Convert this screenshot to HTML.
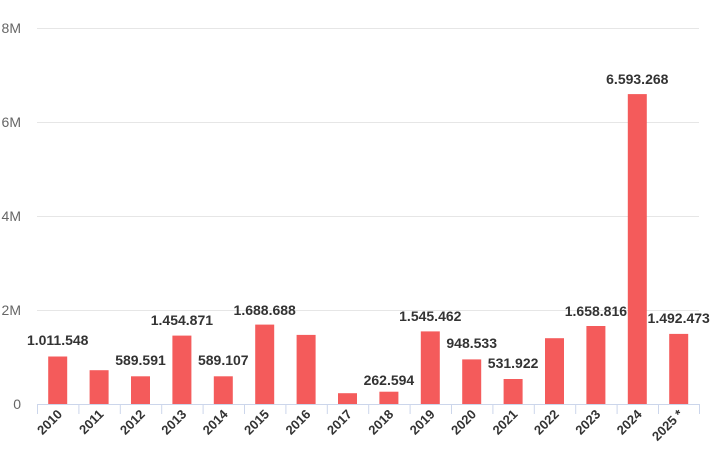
<!DOCTYPE html>
<html><head><meta charset="utf-8"><style>
html,body{margin:0;padding:0;background:#fff;width:722px;height:470px;overflow:hidden}
svg{display:block;font-family:"Liberation Sans","DejaVu Sans",sans-serif}
.y{fill:#666;font-size:14px;text-anchor:end}
.v{fill:#333;font-size:14px;font-weight:bold;text-anchor:middle}
.x{fill:#333;font-size:13px;font-weight:bold;text-anchor:end}
</style></head><body>
<svg width="722" height="470" viewBox="0 0 722 470">
<g stroke="#e6e6e6" stroke-width="1">
<line x1="37" y1="28.5" x2="699" y2="28.5"/>
<line x1="37" y1="122.5" x2="699" y2="122.5"/>
<line x1="37" y1="216.5" x2="699" y2="216.5"/>
<line x1="37" y1="310.5" x2="699" y2="310.5"/>
</g>
<text class="y" x="21" y="33">8M</text>
<text class="y" x="21" y="127">6M</text>
<text class="y" x="21" y="221">4M</text>
<text class="y" x="21" y="315">2M</text>
<text class="y" x="21" y="409">0</text>
<g fill="#f45b5b">
<rect x="48.2" y="356.5" width="19" height="47.5"/>
<rect x="89.6" y="370.2" width="19" height="33.8"/>
<rect x="131" y="376.3" width="19" height="27.7"/>
<rect x="172.4" y="335.6" width="19" height="68.4"/>
<rect x="213.8" y="376.3" width="19" height="27.7"/>
<rect x="255.2" y="324.6" width="19" height="79.4"/>
<rect x="296.6" y="334.9" width="19" height="69.1"/>
<rect x="338" y="393.2" width="19" height="10.8"/>
<rect x="379.4" y="391.7" width="19" height="12.3"/>
<rect x="420.8" y="331.4" width="19" height="72.6"/>
<rect x="462.2" y="359.4" width="19" height="44.6"/>
<rect x="503.6" y="379" width="19" height="25"/>
<rect x="545" y="338.2" width="19" height="65.8"/>
<rect x="586.4" y="326" width="19" height="78"/>
<rect x="627.8" y="94.1" width="19" height="309.9"/>
<rect x="669.2" y="333.9" width="19" height="70.1"/>
</g>
<line x1="37" y1="404.5" x2="699" y2="404.5" stroke="#ccd6eb"/>
<g stroke="#ccd6eb">
<line x1="37.5" y1="404" x2="37.5" y2="414"/><line x1="78.9" y1="404" x2="78.9" y2="414"/><line x1="120.3" y1="404" x2="120.3" y2="414"/><line x1="161.7" y1="404" x2="161.7" y2="414"/><line x1="203.1" y1="404" x2="203.1" y2="414"/><line x1="244.5" y1="404" x2="244.5" y2="414"/><line x1="285.9" y1="404" x2="285.9" y2="414"/><line x1="327.3" y1="404" x2="327.3" y2="414"/><line x1="368.7" y1="404" x2="368.7" y2="414"/><line x1="410.1" y1="404" x2="410.1" y2="414"/><line x1="451.5" y1="404" x2="451.5" y2="414"/><line x1="492.9" y1="404" x2="492.9" y2="414"/><line x1="534.3" y1="404" x2="534.3" y2="414"/><line x1="575.7" y1="404" x2="575.7" y2="414"/><line x1="617.1" y1="404" x2="617.1" y2="414"/><line x1="658.5" y1="404" x2="658.5" y2="414"/><line x1="699.5" y1="404" x2="699.5" y2="414"/>
</g>
<text class="v" x="57.7" y="345">1.011.548</text>
<text class="v" x="140.5" y="365">589.591</text>
<text class="v" x="181.9" y="325">1.454.871</text>
<text class="v" x="223.3" y="365">589.107</text>
<text class="v" x="264.7" y="315">1.688.688</text>
<text class="v" x="388.9" y="385">262.594</text>
<text class="v" x="430.3" y="321">1.545.462</text>
<text class="v" x="471.7" y="348">948.533</text>
<text class="v" x="513.1" y="368">531.922</text>
<text class="v" x="595.9" y="316">1.658.816</text>
<text class="v" x="637.3" y="84">6.593.268</text>
<text class="v" x="678.7" y="323">1.492.473</text>
<g>
<text class="x" transform="translate(63,415) rotate(-45)">2010</text>
<text class="x" transform="translate(104.4,415) rotate(-45)">2011</text>
<text class="x" transform="translate(145.8,415) rotate(-45)">2012</text>
<text class="x" transform="translate(187.2,415) rotate(-45)">2013</text>
<text class="x" transform="translate(228.6,415) rotate(-45)">2014</text>
<text class="x" transform="translate(270,415) rotate(-45)">2015</text>
<text class="x" transform="translate(311.4,415) rotate(-45)">2016</text>
<text class="x" transform="translate(352.8,415) rotate(-45)">2017</text>
<text class="x" transform="translate(394.2,415) rotate(-45)">2018</text>
<text class="x" transform="translate(435.6,415) rotate(-45)">2019</text>
<text class="x" transform="translate(477,415) rotate(-45)">2020</text>
<text class="x" transform="translate(518.4,415) rotate(-45)">2021</text>
<text class="x" transform="translate(559.8,415) rotate(-45)">2022</text>
<text class="x" transform="translate(601.2,415) rotate(-45)">2023</text>
<text class="x" transform="translate(642.6,415) rotate(-45)">2024</text>
<text class="x" transform="translate(684,415) rotate(-45)">2025 *</text>
</g>
</svg>
</body></html>
